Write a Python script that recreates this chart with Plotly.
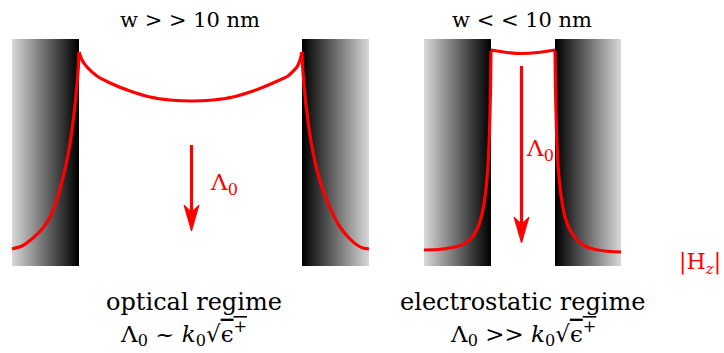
import numpy as np
import plotly.graph_objects as go

# ---- data (pixel-like schematic frame, y grows downward) ----
slab_left_edges = [12, 302, 424, 555]
slab_right_edges = [79, 369, 491, 621]
slab_dark_side = ["right", "left", "right", "left"]
slab_top, slab_bottom = 39, 266

# |Hz| profiles
p1_left_x = [12, 22, 33, 43, 50, 57, 63, 68, 72, 75, 77, 78.5, 79]
p1_left_y = [249, 246, 238, 228, 217, 199, 177, 155, 130, 105, 85, 65, 52]
p1_gap_x = [79, 82, 87, 97, 110, 130, 150, 170, 192, 213, 233, 253, 273, 288, 297, 300, 302]
p1_gap_y = [52, 60, 67, 76, 83, 91, 97, 100, 101, 100, 97, 91, 83, 76, 67, 60, 52]
p1_right_x = [302, 302.5, 304, 306, 309, 312, 317, 323, 331, 340, 349, 357, 363, 369]
p1_right_y = [52, 65, 85, 105, 128, 147, 170, 190, 210, 227, 238, 245, 248, 249]

p2_left_x = [424, 438, 450, 460, 467, 473, 478, 482, 485, 487, 488.5, 489.5, 490.5, 491]
p2_left_y = [250, 249.5, 248, 245.5, 242, 236, 227, 214, 197, 178, 157, 130, 90, 51]
p2_gap_x = [491, 507, 522, 538, 555]
p2_gap_y = [50, 52.5, 53.5, 52.5, 50]
p2_right_x = [555, 555.5, 556.5, 558, 561, 565, 570, 577, 585, 593, 605, 621]
p2_right_y = [51, 90, 130, 165, 195, 217, 230, 240, 246, 249, 251, 252]

# arrows (x, y_start, y_tip)
arrow_x = [191.5, 521.5]
arrow_y0 = [145, 66]
arrow_y1 = [231, 243]

RED = "#ff0000"
FONT = "DejaVu Serif"

fig = go.Figure()

# metal slabs with gradient
for xl, xr, dark in zip(slab_left_edges, slab_right_edges, slab_dark_side):
    n = int(xr - xl)
    xs = np.linspace(xl + 0.5, xr - 0.5, n)
    ramp = np.linspace(0, 1, n)
    if dark == "left":
        ramp = ramp[::-1]
    h = slab_bottom - slab_top
    fig.add_trace(go.Heatmap(
        x=xs, y=[slab_top + h / 4, slab_top + 3 * h / 4], z=[ramp, ramp],
        colorscale=[[0, "rgb(214,214,214)"], [1, "rgb(0,0,0)"]],
        zmin=0, zmax=1, showscale=False, hoverinfo="skip"))

for xs, ys in [(p1_left_x, p1_left_y), (p1_gap_x, p1_gap_y), (p1_right_x, p1_right_y),
               (p2_left_x, p2_left_y), (p2_gap_x, p2_gap_y), (p2_right_x, p2_right_y)]:
    fig.add_trace(go.Scatter(x=xs, y=ys, mode="lines",
                             line=dict(color=RED, width=3.2, shape="spline", smoothing=0.4),
                             hoverinfo="skip", showlegend=False))

# arrows
for ax, y0, y1 in zip(arrow_x, arrow_y0, arrow_y1):
    fig.add_trace(go.Scatter(x=[ax, ax], y=[y0, y1 - 10], mode="lines",
                             line=dict(color=RED, width=3.2), hoverinfo="skip", showlegend=False))
    fig.add_trace(go.Scatter(x=[ax, ax - 7.5, ax, ax + 7.5, ax],
                             y=[y1, y1 - 26, y1 - 19, y1 - 26, y1],
                             mode="lines", fill="toself", fillcolor=RED,
                             line=dict(color=RED, width=1), hoverinfo="skip", showlegend=False))

def txt(x, y, s, color="black", size=21, xanchor="center"):
    fig.add_annotation(x=x, y=y, xref="x", yref="y", text=s, showarrow=False,
                       xanchor=xanchor, yanchor="middle",
                       font=dict(family=FONT, size=size, color=color))

SQ = '√<span style="text-decoration:overline">ϵ<sup>+</sup></span>'
txt(190, 20, "w &gt; &gt; 10 nm", size=21)
txt(522, 20, "w &lt; &lt; 10 nm", size=21)
txt(208, 184, "Λ<sub>0</sub>", RED, 23, "left")
txt(524, 150, "Λ<sub>0</sub>", RED, 23, "left")
txt(723, 263, "|H<sub><i>z</i></sub>|", RED, 22, "right")
txt(194, 302, "optical regime", size=24)
txt(522, 302, "electrostatic regime", size=24)
txt(183, 333, "Λ<sub>0</sub> ~ <i>k</i><sub>0</sub>" + SQ, size=23)
txt(523, 333, "Λ<sub>0</sub> &gt;&gt; <i>k</i><sub>0</sub>" + SQ, size=23)

fig.update_layout(
    width=724, height=353, margin=dict(l=0, r=0, t=0, b=0),
    paper_bgcolor="white", plot_bgcolor="white", showlegend=False,
    xaxis=dict(range=[0, 724], visible=False, fixedrange=True),
    yaxis=dict(range=[353, 0], visible=False, fixedrange=True),
)
fig.write_html("out.html", config={"displayModeBar": False},
               post_script="document.body.style.margin='0px';")
